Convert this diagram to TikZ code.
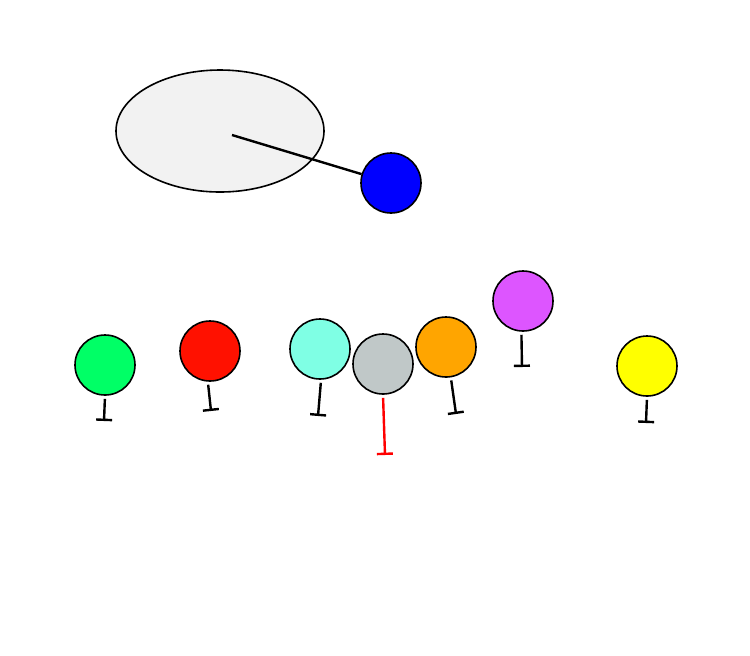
\documentclass[tikz,border=0pt]{standalone}
\usetikzlibrary{positioning, arrows.meta, shapes.geometric}
\definecolor{ballgreen}{RGB}{0,255,102}
\definecolor{ballred}{RGB}{255,17,0}
\definecolor{ballaqua}{RGB}{127,255,228}
\definecolor{ballgray}{RGB}{192,200,200}
\definecolor{ballorange}{RGB}{255,165,0}
\definecolor{ballpurple}{RGB}{221,85,255}
\definecolor{ballyellow}{RGB}{255,255,0}
\definecolor{ballblue}{RGB}{0,0,255}
\tikzset{
ball/.style={circle, draw, line width=0.8pt, minimum size=30pt, inner sep=0pt}, % every coloured ball
stem/.style={line width=1.2pt, shorten <=1.5pt, -{Bar[width=8pt,line width=1.2pt]}}, % the stem under a ball
cell/.style={ellipse, draw, line width=0.8pt, fill=gray!10, minimum width=104pt, minimum height=61pt}, % the big ellipse
}
\begin{document}
\begin{tikzpicture}[x=0.5pt, y=-0.5pt]
       \useasboundingbox (0,0) rectangle (750,655);
       \node[cell] (CELL) at (220,131) {};
       \coordinate (c0) at (232,135);
       \node[ball, fill=ballblue] (blue) at (391,183) {};

       \node[ball, fill=ballgreen] (green) at (105,365) {};
       \node[ball, fill=ballred] (red) at (210,351) {};
       \node[ball, fill=ballaqua] (aqua) at (320,349) {};
       \node[ball, fill=ballgray] (gray) at (383,364) {};
       \node[ball, fill=ballorange] (orange) at (446,347) {};
       \node[ball, fill=ballpurple] (purple) at (523,301) {};
       \node[ball, fill=ballyellow] (yellow) at (647,366) {};

       \coordinate (green-end) at (104,421);
       \coordinate (red-end) at (211,411);
       \coordinate (aqua-end) at (318,416);
       \coordinate (gray-end) at (385,455);
       \coordinate (orange-end) at (456,414);
       \coordinate (purple-end) at (522,367);
       \coordinate (yellow-end) at (646,423);

       \draw[line width=1.2pt] (c0) -- (blue);
       \draw[stem] (green.270) -- (green-end);
       \draw[stem] (red.266) -- (red-end);
       \draw[stem] (aqua.272) -- (aqua-end);
       \draw[stem, red] (gray.270) -- (gray-end);
       \draw[stem] (orange.279) -- (orange-end);
       \draw[stem] (purple.267) -- (purple-end);
       \draw[stem] (yellow.270) -- (yellow-end);
    \end{tikzpicture}
\end{document}
